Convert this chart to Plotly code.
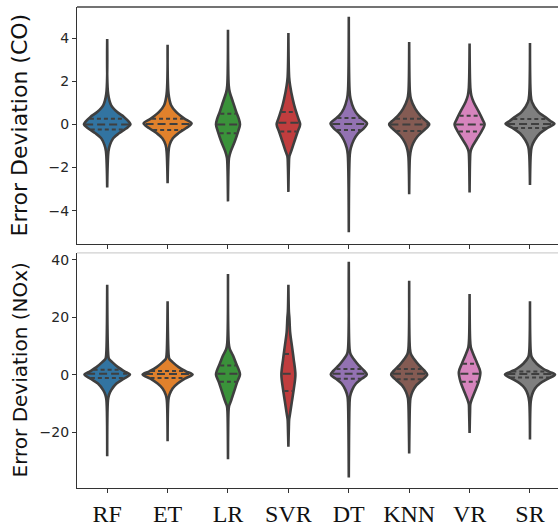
import numpy as np
import plotly.graph_objects as go

# ---------------- data ----------------
models = ["RF", "ET", "LR", "SVR", "DT", "KNN", "VR", "SR"]
colors = ["#3274a1", "#e1812c", "#3a923a", "#c03d3e", "#9372b2", "#845b53", "#d684bd", "#7f7f7f"]

# CO error deviation: density profiles (y knots, relative density)
co_y = [
    [3.97, 1.4, 0.89, 0.58, 0.35, 0.12, 0.0, -0.18, -0.41, -0.64, -0.95, -1.25, -2.93],
    [3.70, 1.4, 0.89, 0.58, 0.27, 0.05, -0.18, -0.41, -0.64, -0.95, -1.25, -2.73],
    [4.39, 1.8, 1.5, 1.04, 0.58, 0.27, 0.0, -0.34, -0.79, -1.25, -1.56, -2.0, -3.57],
    [4.24, 2.2, 1.8, 1.19, 0.73, 0.27, 0.0, -0.34, -0.79, -1.25, -1.48, -1.9, -3.13],
    [5.00, 1.6, 1.19, 0.73, 0.43, 0.2, 0.05, -0.18, -0.41, -0.72, -1.10, -1.40, -5.0],
    [3.83, 1.5, 1.19, 0.73, 0.43, 0.2, 0.0, -0.26, -0.56, -0.87, -1.18, -1.5, -3.24],
    [3.75, 1.7, 1.34, 1.04, 0.58, 0.2, 0.0, -0.34, -0.72, -1.03, -1.25, -1.6, -3.16],
    [3.78, 1.4, 1.04, 0.58, 0.35, 0.15, 0.03, -0.18, -0.41, -0.72, -1.03, -1.4, -2.81],
]
co_d = [
    [0, .04, .16, .40, .67, .87, .93, .77, .47, .24, .11, .05, 0],
    [0, .04, .14, .34, .67, .96, .73, .43, .21, .08, .04, 0],
    [0, .03, .07, .20, .33, .43, .48, .40, .27, .11, .04, .02, 0],
    [0, .03, .07, .17, .27, .40, .47, .37, .24, .11, .04, .02, 0],
    [0, .03, .07, .20, .37, .60, .73, .60, .37, .20, .08, .04, 0],
    [0, .03, .07, .24, .43, .64, .80, .60, .33, .16, .07, .03, 0],
    [0, .03, .07, .16, .37, .53, .60, .47, .27, .11, .04, .02, 0],
    [0, .03, .08, .33, .60, .83, .98, .67, .40, .19, .07, .03, 0],
]
co_q1 = [-0.23, -0.26, -0.41, -0.33, -0.26, -0.30, -0.33, -0.17]
co_med = [0.0, 0.02, 0.0, 0.08, 0.02, 0.0, 0.0, 0.02]
co_q3 = [0.27, 0.27, 0.50, 0.58, 0.30, 0.27, 0.40, 0.25]

# NOx error deviation
nox_y = [
    [31.3, 7, 5.5, 4.35, 2.6, 1.15, 0, -1.38, -3.1, -5.4, -7.1, -9, -28.4],
    [25.6, 7, 5.5, 4.35, 2.6, 1.15, 0, -1.38, -3.1, -4.8, -7.1, -9, -23.2],
    [35.1, 11, 8.95, 6.64, 3.8, 1.5, 0, -2.53, -5.97, -9.41, -11.1, -13, -29.5],
    [31.3, 22, 19.8, 14.7, 10.1, 5.5, 0, -4.8, -9.4, -14, -15.7, -18, -25.1],
    [39.3, 9, 7.2, 4.9, 3.2, 1.5, 0, -1.38, -3.1, -5.4, -7.7, -10, -35.8],
    [32.7, 9, 7.2, 4.9, 3.2, 1.5, 0, -1.95, -3.68, -5.97, -8.26, -10.5, -27.5],
    [28.1, 12.5, 9.5, 6.65, 3.8, 0.9, -2.53, -5.97, -8.8, -10.3, -12.5, -20.3],
    [25.6, 8, 6.1, 3.8, 2.05, 0.9, 0, -1.38, -3.1, -4.8, -7.1, -9.4, -22.6],
]
nox_d = [
    [0, .04, .07, .20, .43, .69, .91, .67, .37, .16, .07, .03, 0],
    [0, .04, .07, .20, .44, .73, 1.0, .69, .40, .20, .07, .03, 0],
    [0, .03, .07, .20, .33, .44, .48, .37, .24, .11, .04, .02, 0],
    [0, .02, .04, .07, .14, .21, .28, .22, .14, .06, .03, .02, 0],
    [0, .03, .07, .24, .40, .60, .72, .53, .29, .13, .05, .03, 0],
    [0, .03, .07, .24, .40, .60, .72, .51, .29, .13, .05, .03, 0],
    [0, .02, .05, .17, .31, .43, .36, .21, .08, .03, .02, 0],
    [0, .03, .07, .27, .53, .80, 1.0, .73, .40, .20, .08, .03, 0],
]
nox_q1 = [-1.2, -1.2, -2.5, -5.7, -1.4, -1.6, -2.5, -1.0]
nox_med = [0.3, 0.2, 0.3, 0.3, 0.3, 0.3, 0.3, 0.2]
nox_q3 = [1.7, 1.25, 3.2, 7.2, 2.0, 2.0, 3.8, 1.1]

co_ticks = [-4, -2, 0, 2, 4]
nox_ticks = [-20, 0, 20, 40]

# ---------------- drawing ----------------
MAX_HALF = 0.414
EDGE = "#3f3f3f"
fig = go.Figure()


def add_violins(ys, ds, q1s, meds, q3s, xa, ya):
    for i in range(len(models)):
        y = np.array(ys[i], float)
        w = np.array(ds[i], float) * MAX_HALF
        px = np.concatenate([i + w, (i - w)[::-1], [i + w[0]]])
        py = np.concatenate([y, y[::-1], [y[0]]])
        fig.add_trace(go.Scatter(
            x=px, y=py, mode="lines", fill="toself", fillcolor=colors[i],
            line=dict(color=EDGE, width=2.6, shape="spline", smoothing=0.9),
            xaxis=xa, yaxis=ya, showlegend=False, hoverinfo="skip"))
        order = np.argsort(y)
        for q, dash in ((q1s[i], "4px,3px"), (meds[i], "8px,4px"), (q3s[i], "4px,3px")):
            hw = np.interp(q, y[order], w[order]) - 0.02
            hw = max(hw, 0.01)
            fig.add_trace(go.Scatter(
                x=[i - hw, i + hw], y=[q, q], mode="lines",
                line=dict(color=EDGE, width=2, dash=dash),
                xaxis=xa, yaxis=ya, showlegend=False, hoverinfo="skip"))


add_violins(co_y, co_d, co_q1, co_med, co_q3, "x", "y")
add_violins(nox_y, nox_d, nox_q1, nox_med, nox_q3, "x2", "y2")

W, H = 558, 527
ML, MR, MT, MB = 77, 0, 7, 33
plot_h = H - MT - MB
top_dom = [(H - MB - 247) / plot_h, 1.0]
bot_dom = [0.0, (H - MB - 256) / plot_h]

axis_common = dict(showline=True, linecolor="#333333", linewidth=1.3, ticks="outside",
                   ticklen=4, tickwidth=1.2, tickcolor="#333333", showgrid=False,
                   zeroline=False)
tickfont = dict(family="DejaVu Sans", size=14, color="#262626")

fig.update_layout(
    width=W, height=H, margin=dict(l=ML, r=MR, t=MT, b=MB),
    paper_bgcolor="white", plot_bgcolor="white",
    xaxis=dict(domain=[0, 1], anchor="y", range=[-0.5, 7.464], tickvals=list(range(8)),
               showticklabels=False, **axis_common),
    yaxis=dict(domain=top_dom, anchor="x", range=[-5.55, 5.45], tickvals=co_ticks,
               tickfont=tickfont, **axis_common),
    xaxis2=dict(domain=[0, 1], anchor="y2", range=[-0.5, 7.464], tickvals=list(range(8)),
                ticktext=models, tickfont=dict(family="Liberation Serif", size=24, color="#111111"),
                **axis_common),
    yaxis2=dict(domain=bot_dom, anchor="x2", range=[-39.5, 42.4], tickvals=nox_ticks,
                tickfont=tickfont, **axis_common),
    shapes=[
        dict(type="line", xref="paper", yref="paper", x0=0, x1=1, y0=1, y1=1,
             line=dict(color="#444444", width=1.3)),
        dict(type="line", xref="paper", yref="paper", x0=0, x1=1, y0=bot_dom[1], y1=bot_dom[1],
             line=dict(color="#d0d0d0", width=1.3)),
    ],
    annotations=[
        dict(text="Error Deviation (CO)", xref="paper", yref="paper",
             x=(20 - ML) / (W - ML - MR), y=(H - MB - 127) / plot_h, textangle=-90,
             showarrow=False, xanchor="center", yanchor="middle",
             font=dict(family="DejaVu Sans", size=22, color="#111111")),
        dict(text="Error Deviation (NOx)", xref="paper", yref="paper",
             x=(20 - ML) / (W - ML - MR), y=(H - MB - 375) / plot_h, textangle=-90,
             showarrow=False, xanchor="center", yanchor="middle",
             font=dict(family="DejaVu Sans", size=20, color="#111111")),
    ],
)

fig.write_html("out.html")
